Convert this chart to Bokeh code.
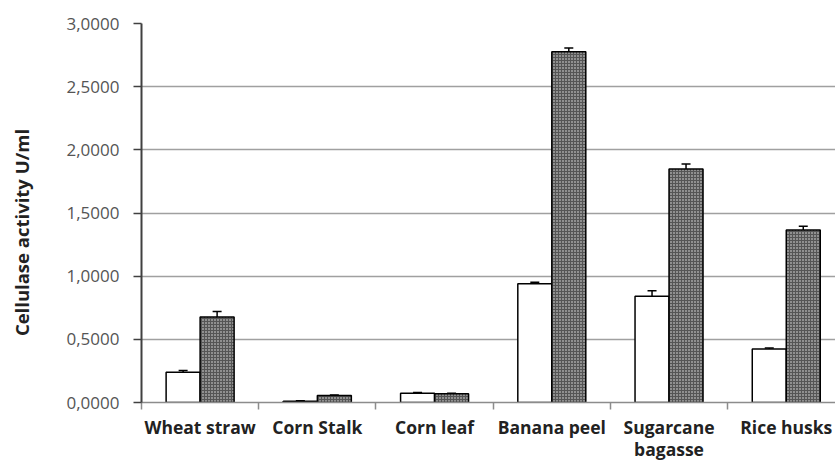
import numpy as np
from bokeh.plotting import figure
from bokeh.models import (Range1d, FixedTicker, CustomJSTickFormatter, ColumnDataSource,
                          Whisker, TeeHead, Label)
from bokeh.embed import file_html
from bokeh.resources import INLINE

categories = ["Wheat straw", "Corn Stalk", "Corn leaf", "Banana peel", "Sugarcane\nbagasse", "Rice husks"]
series_a = [0.239, 0.010, 0.074, 0.940, 0.842, 0.424]
series_a_err = [0.015, 0.003, 0.006, 0.012, 0.042, 0.008]
series_b = [0.676, 0.055, 0.070, 2.777, 1.848, 1.366]
series_b_err = [0.045, 0.004, 0.004, 0.030, 0.040, 0.030]
y_ticks = [0.0, 0.5, 1.0, 1.5, 2.0, 2.5, 3.0]
y_label = "Cellulase activity U/ml"

FONT = "Open Sans"
idx = np.arange(len(categories)) + 0.5
bw = 0.29

src_a = ColumnDataSource(dict(x=idx - bw / 2, top=series_a,
                              upper=np.array(series_a) + np.array(series_a_err),
                              lower=np.array(series_a) - np.array(series_a_err)))
src_b = ColumnDataSource(dict(x=idx + bw / 2, top=series_b,
                              upper=np.array(series_b) + np.array(series_b_err),
                              lower=np.array(series_b) - np.array(series_b_err)))

p = figure(width=835, height=464, output_backend="svg", toolbar_location=None,
           x_range=Range1d(0, 5.92), y_range=Range1d(0, 3.0),
           min_border_left=141, min_border_right=0, min_border_top=23, min_border_bottom=61)
p.outline_line_color = None
p.background_fill_color = "white"
p.border_fill_color = "white"

p.vbar(x="x", top="top", width=bw, source=src_a, fill_color="white",
       line_color="black", line_width=1.5)
p.vbar(x="x", top="top", width=bw, source=src_b, fill_color="#555555",
       hatch_pattern="dot", hatch_color="#e8e8e8", hatch_scale=3, hatch_weight=1.2,
       line_color="black", line_width=1.5)

for s in (src_a, src_b):
    w = Whisker(base="x", upper="upper", lower="lower", source=s, line_color="black",
                line_width=1.5,
                upper_head=TeeHead(size=9, line_color="black", line_width=1.5),
                lower_head=TeeHead(size=9, line_color="black", line_width=1.5))
    p.add_layout(w)

# grid
p.xgrid.grid_line_color = None
p.ygrid.grid_line_color = "#a0a0a0"
p.ygrid.grid_line_width = 1.5
p.ygrid.ticker = FixedTicker(ticks=y_ticks)

# y axis
p.yaxis.ticker = FixedTicker(ticks=y_ticks)
p.yaxis.formatter = CustomJSTickFormatter(code="return tick.toFixed(4).replace('.', ',');")
p.yaxis.axis_line_color = "#404040"
p.yaxis.axis_line_width = 2
p.yaxis.major_tick_line_color = "#404040"
p.yaxis.major_tick_line_width = 1.5
p.yaxis.major_tick_out = 8
p.yaxis.major_tick_in = 0
p.yaxis.minor_tick_line_color = None
p.yaxis.major_label_text_font = FONT
p.yaxis.major_label_text_font_size = "17px"
p.yaxis.major_label_text_color = "#555555"
p.yaxis.major_label_standoff = 14

# y axis title, placed like the reference (slightly below the frame centre)
ylab = Label(x=-17, y=170, x_units="screen", y_units="screen", text=y_label,
             angle=np.pi / 2, text_align="center", text_baseline="middle",
             text_font=FONT, text_font_style="bold", text_font_size="18.5px",
             text_color="#222222")
p.add_layout(ylab, "left")

# x axis
p.xaxis.ticker = FixedTicker(ticks=list(idx), minor_ticks=list(range(len(categories) + 1)))
p.xaxis.major_label_overrides = {float(v): c for v, c in zip(idx, categories)}
p.xaxis.major_tick_line_color = None
p.xaxis.minor_tick_line_color = "#8c8c8c"
p.xaxis.minor_tick_line_width = 1.5
p.xaxis.minor_tick_out = 7
p.xaxis.minor_tick_in = 0
p.xaxis.axis_line_color = "#8c8c8c"
p.xaxis.axis_line_width = 1.5
p.xaxis.major_label_text_font = FONT
p.xaxis.major_label_text_font_style = "bold"
p.xaxis.major_label_text_font_size = "17.5px"
p.xaxis.major_label_text_line_height = 0.95
p.xaxis.major_label_text_color = "#222222"
p.xaxis.major_label_standoff = 5

open("out.html", "w").write(file_html(p, INLINE))
